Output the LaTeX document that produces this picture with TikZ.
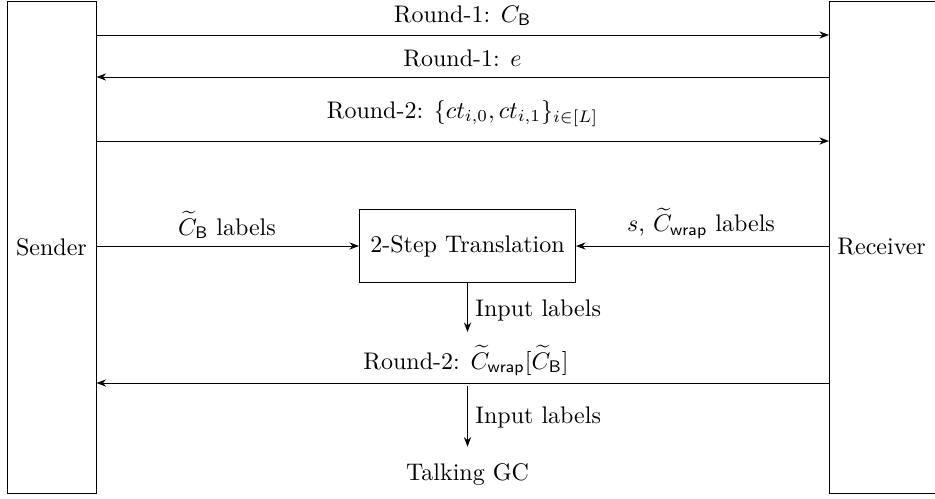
\documentclass[tikz,border=0pt]{standalone}
\usepackage{amsmath}
\usetikzlibrary{arrows.meta}
\begin{document}
\begin{tikzpicture}[x=0.41667pt, y=-0.41667pt,
  party/.style={draw, minimum height=205pt, inner sep=3.33pt},
  msg/.style={-{Stealth[length=4pt,width=3pt]}},
  lbl/.style={anchor=base, inner sep=0pt},
  lblw/.style={anchor=base west, inner sep=0pt}]
\useasboundingbox (0,0) rectangle (935,498);

% the two parties (the receiver box runs off the right edge)
\node[party, minimum width=37.1pt] (snd) at (51.5,247) {Sender};
\node[party, anchor=west, text width=43pt, align=left] (rcv) at (829,247) {Receiver};

% message levels
\coordinate (m1) at (0,35);
\coordinate (m2) at (0,77);
\coordinate (m3) at (0,141);
\coordinate (m4) at (0,383);

% translation step
\node[draw, minimum width=90pt, minimum height=30.8pt] (tr) at (467.5,246) {2-Step Translation};
\coordinate (a1) at (467.5,332);
\coordinate (a2) at (467.5,386);
\node[anchor=base, inner sep=3.33pt] (tgc) at (467.5,480) {Talking GC};

% round 1 and round 2 messages
\draw[msg] (snd.east |- m1) -- (rcv.west |- m1);
\node[lbl] (l1) at (462.5,22) {Round-1: $C_{\mathsf{B}}$};
\draw[msg] (rcv.west |- m2) -- (snd.east |- m2);
\node[lbl] (l2) at (462.5,66.5) {Round-1: $e$};
\draw[msg] (snd.east |- m3) -- (rcv.west |- m3);
\node[lbl] (l3) at (462.5,118) {Round-2: $\{ct_{i,0}, ct_{i,1}\}_{i\in[L]}$};

% labels fed into the translation
\draw[msg] (snd.east |- tr.west) -- (tr.west);
\node[lbl] (l4) at (227,235) {$\widetilde{C}_{\mathsf{B}}$ labels};
\draw[msg] (rcv.west |- tr.east) -- (tr.east);
\node[lbl] (l5) at (701,231.5) {$s$, $\widetilde{C}_{\mathsf{wrap}}$ labels};

\draw[msg] (tr.south) -- (a1);
\node[lblw] (l6) at (475,316) {Input labels};

\draw[msg] (rcv.west |- m4) -- (snd.east |- m4);
\node[lbl] (l7) at (466,369) {Round-2: $\widetilde{C}_{\mathsf{wrap}}[\widetilde{C}_{\mathsf{B}}]$};

\draw[msg, shorten >=3.3pt] (a2) -- (tgc.north);
\node[lblw] (l8) at (475,423) {Input labels};
\end{tikzpicture}
\end{document}
